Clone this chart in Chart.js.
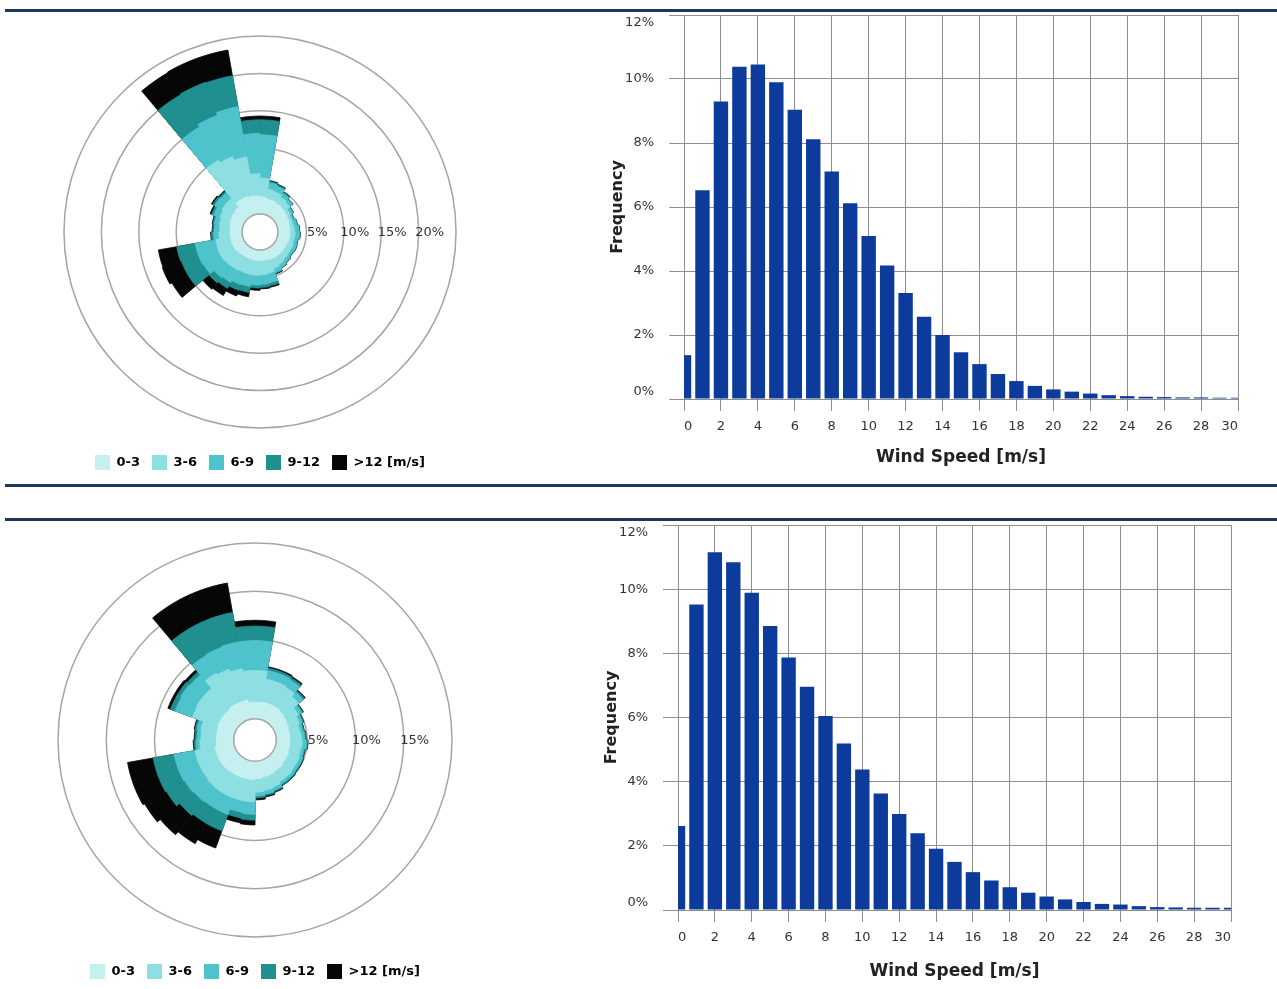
<!DOCTYPE html>
<html><head><meta charset="utf-8">
<script src="https://cdn.jsdelivr.net/npm/chart.js@4.4.1/dist/chart.umd.min.js"></script>
<style>
html,body{margin:0;padding:0;background:#fff;}
body{width:1277px;height:989px;position:relative;overflow:hidden;}
.rule{position:absolute;left:5px;right:0;height:3px;background:#1d3857;}
.box{position:absolute;}
</style></head><body>
<div class="rule" style="top:9px"></div>
<div class="rule" style="top:484px"></div>
<div class="rule" style="top:518px"></div>
<div class="box" style="left:0;top:0;width:521px;height:480px"><canvas id="roseTop"></canvas></div>
<div class="box" style="left:0;top:500px;width:510px;height:489px"><canvas id="roseBottom"></canvas></div>
<div class="box" style="left:600px;top:0;width:660px;height:478px"><canvas id="histTop"></canvas></div>
<div class="box" style="left:594px;top:510px;width:660px;height:479px"><canvas id="histBottom"></canvas></div>
<script>
// ---------- categories ----------
const DIRECTIONS = [0,10,20,30,40,50,60,70,80,90,100,110,120,130,140,150,160,170,180,190,200,210,220,230,240,250,260,270,280,290,300,310,320,330,340,350];
const BAND_LABELS = ['0-3','3-6','6-9','9-12','>12 [m/s]'];
const BAND_COLORS = ['#c6eff0','#8edfe2','#4fc3cb','#1f8f90','#060606'];
const WIND_SPEED = [0,1,2,3,4,5,6,7,8,9,10,11,12,13,14,15,16,17,18,19,20,21,22,23,24,25,26,27,28,29,30];

// ---------- top wind rose (% per 10° sector, per speed band) ----------
const TOP_0_3  = [3.5,3.3,3.3,3.2,3.1,3.0,2.9,2.8,2.8,2.8,2.8,2.7,2.7,2.7,2.7,2.7,2.6,2.6,2.6,2.6,2.6,2.6,2.7,2.8,2.8,2.8,2.8,2.8,2.9,3.0,3.1,3.2,3.8,3.8,3.7,3.6];
const TOP_3_6  = [2.5,1.3,1.2,1.0,0.9,0.5,0.4,0.5,0.6,0.7,0.6,0.8,0.8,0.9,1.1,1.3,1.8,1.9,2.0,2.0,2.0,2.1,2.1,2.1,2.1,2.0,1.5,1.4,1.4,1.5,1.6,1.5,6.1,5.7,5.3,3.0];
const TOP_6_9  = [5.8,0.9,0.8,0.6,0.5,0.4,0.3,0.5,0.6,0.6,0.5,0.5,0.4,0.5,0.5,0.6,1.3,1.3,1.3,1.6,1.7,1.9,2.0,2.6,2.7,2.8,0.7,0.7,0.7,0.9,1.1,1.0,5.1,5.9,6.8,5.4];
const TOP_9_12 = [2.0,0.2,0.2,0.15,0.05,0.05,0.05,0.05,0.05,0.05,0.05,0.05,0.05,0.05,0.05,0.1,0.4,0.4,0.4,0.8,0.8,0.9,0.9,2.5,2.4,2.5,0.3,0.2,0.2,0.3,0.3,0.25,5.0,4.7,4.2,1.8];
const TOP_GT12 = [0.5,0.1,0.1,0.05,0.05,0.05,0.05,0.05,0.05,0.05,0.05,0.05,0.05,0.05,0.05,0.1,0.2,0.2,0.3,0.6,0.8,1.1,1.1,2.4,2.7,2.5,0.1,0.1,0.1,0.2,0.2,0.15,3.4,3.4,3.5,0.5];
const TOP_CALM = 1.2;
const TOP_RINGS = [5,10,15,20,25];
const TOP_RING_LABELS = [5,10,15,20];

// ---------- bottom wind rose ----------
const BOT_0_3  = [3.5,3.6,3.6,3.6,3.5,3.4,3.3,3.2,3.2,3.2,3.2,3.3,3.3,3.4,3.4,3.5,3.5,3.6,3.7,3.7,3.7,3.7,3.8,3.8,3.8,3.8,3.6,3.6,3.6,3.7,3.7,3.7,3.8,3.8,3.8,3.5];
const BOT_3_6  = [3.3,2.4,2.4,2.3,2.0,1.4,1.2,1.1,1.2,1.3,1.2,1.2,1.2,1.2,1.2,1.3,1.4,1.4,2.3,2.3,2.3,2.3,2.2,2.1,2.1,2.1,1.7,1.6,1.7,2.8,2.9,2.9,3.8,3.6,3.3,3.3];
const BOT_6_9  = [3.1,0.9,0.9,0.9,0.6,0.4,0.35,0.35,0.35,0.45,0.35,0.35,0.35,0.3,0.3,0.35,0.4,0.4,1.3,1.2,1.8,1.8,1.9,2.1,2.2,2.2,0.4,0.4,0.4,1.9,1.9,1.8,2.1,2.4,2.8,3.1];
const BOT_9_12 = [1.5,0.25,0.25,0.25,0.2,0.15,0.1,0.1,0.1,0.1,0.1,0.1,0.1,0.15,0.15,0.15,0.15,0.2,0.6,0.6,1.8,1.8,1.9,2.2,2.2,2.2,0.2,0.2,0.2,0.5,0.4,0.4,3.3,3.2,3.1,1.5];
const BOT_GT12 = [0.6,0.15,0.15,0.15,0.1,0.05,0.05,0.05,0.05,0.05,0.05,0.05,0.05,0.05,0.05,0.1,0.15,0.2,0.5,0.5,1.9,2.4,2.6,2.6,2.7,2.7,0.1,0.1,0.1,0.3,0.3,0.3,3.1,3.1,3.1,0.6];
const BOT_CALM = 1.8;
const BOT_RINGS = [5,10,15,20];
const BOT_RING_LABELS = [5,10,15];

// ---------- histograms (% frequency per 1 m/s bin) ----------
const FREQ_TOP = [1.37,6.52,9.30,10.38,10.45,9.90,9.04,8.12,7.11,6.12,5.09,4.17,3.31,2.57,2.00,1.46,1.09,0.78,0.56,0.41,0.30,0.23,0.17,0.12,0.09,0.07,0.06,0.05,0.05,0.04,0.04];
const FREQ_BOTTOM = [2.62,9.52,11.15,10.84,9.89,8.85,7.87,6.96,6.05,5.19,4.38,3.63,2.99,2.39,1.91,1.50,1.18,0.92,0.71,0.54,0.42,0.33,0.25,0.19,0.17,0.12,0.09,0.08,0.07,0.07,0.07];
const Y_TICKS = [0,2,4,6,8,10,12];

Chart.defaults.font.family = "'DejaVu Sans', sans-serif";
const GRID = '#8e8e8e';
const RING = '#a5a5a5';

function roseDecor(calm, labels) {
  return {
    id: 'roseDecor',
    afterDatasetsDraw(chart) {
      const s = chart.scales.r, ctx = chart.ctx;
      ctx.save();
      ctx.beginPath();
      ctx.arc(s.xCenter, s.yCenter, s.getDistanceFromCenterForValue(calm), 0, Math.PI * 2);
      ctx.fillStyle = '#ffffff'; ctx.fill();
      ctx.lineWidth = 1.5; ctx.strokeStyle = RING; ctx.stroke();
      ctx.font = '13px "DejaVu Sans"'; ctx.fillStyle = '#333';
      ctx.textAlign = 'center'; ctx.textBaseline = 'middle';
      labels.forEach(v => ctx.fillText(v + '%', s.xCenter + s.getDistanceFromCenterForValue(v) + 11, s.yCenter + 1));
      ctx.restore();
    }
  };
}

function roseConfig(bands, calm, rMin, rMax, rings, ringLabels, padding) {
  const cum = [];
  let run = DIRECTIONS.map(() => 0);
  bands.forEach(b => { run = run.map((v, i) => v + b[i]); cum.push(run.slice()); });
  return {
    type: 'polarArea',
    data: {
      labels: DIRECTIONS.map(d => d + '°'),
      datasets: cum.map((d, k) => ({
        label: BAND_LABELS[k], data: d,
        backgroundColor: BAND_COLORS[k], borderColor: BAND_COLORS[k], borderWidth: 0.8
      }))
    },
    options: {
      responsive: true, maintainAspectRatio: false, animation: false,
      layout: { padding },
      plugins: {
        tooltip: { enabled: false },
        legend: {
          position: 'bottom', onClick: null,
          labels: {
            boxWidth: 15, boxHeight: 15, padding: 12, color: '#222',
            font: { size: 13, weight: 'bold' },
            generateLabels: (chart) => chart.data.datasets.map((ds, i) => ({
              text: ds.label, fillStyle: ds.backgroundColor, strokeStyle: ds.backgroundColor,
              lineWidth: 0, hidden: false, datasetIndex: i
            }))
          }
        }
      },
      scales: {
        r: {
          min: rMin, max: rMax, startAngle: 0,
          angleLines: { display: false },
          pointLabels: { display: false },
          grid: { circular: true, color: RING, lineWidth: 1.5 },
          ticks: { display: false },
          afterBuildTicks: (s) => { s.ticks = rings.map(v => ({ value: v })); }
        }
      }
    },
    plugins: [roseDecor(calm, ringLabels)]
  };
}

// first / last y labels kept inside the plot, as in the original
function yLabel(v) {
  const t = v + '%';
  if (v === Y_TICKS[Y_TICKS.length - 1]) return ['', t];
  if (v === Y_TICKS[0]) return [t, ''];
  return t;
}

function histConfig(freq, padding, titlePadBottom) {
  return {
    type: 'bar',
    data: {
      datasets: [{
        data: WIND_SPEED.map((x, i) => ({ x: x, y: freq[i] })),
        backgroundColor: '#0c3b9c', borderWidth: 0,
        barPercentage: 0.78, categoryPercentage: 1, clip: 0
      }]
    },
    options: {
      responsive: true, maintainAspectRatio: false, animation: false,
      layout: { padding },
      plugins: { legend: { display: false }, tooltip: { enabled: false } },
      scales: {
        x: {
          type: 'linear', min: 0, max: 30, offset: false,
          grid: { color: GRID, tickLength: 12, offset: false },
          border: { color: GRID },
          ticks: { stepSize: 2, autoSkip: false, maxRotation: 0, padding: 8, color: '#333', font: { size: 13 },
                   align: 'inner', callback: v => String(v) },
          title: { display: true, text: 'Wind Speed [m/s]', color: '#222', font: { size: 17, weight: 'bold' },
                   padding: { top: 4, bottom: titlePadBottom } },
          afterFit: s => { s.height = 79; }
        },
        y: {
          min: 0, max: 12,
          grid: { color: GRID, tickLength: 15 },
          border: { color: GRID },
          ticks: { stepSize: 2, padding: 15, color: '#333', font: { size: 13 }, callback: yLabel },
          afterBuildTicks: s => { s.ticks = Y_TICKS.map(v => ({ value: v })); },
          title: { display: true, text: 'Frequency', color: '#222', font: { size: 16, weight: 'bold' },
                   padding: { top: 8, bottom: 4 } },
          afterFit: s => { s.width = 84; s.paddingTop = 0; s.paddingBottom = 0; }
        }
      }
    }
  };
}

new Chart(document.getElementById('roseTop'),
  roseConfig([TOP_0_3, TOP_3_6, TOP_6_9, TOP_9_12, TOP_GT12], TOP_CALM, -1.2, 25, TOP_RINGS, TOP_RING_LABELS,
             { top: 22, left: 64, right: 65, bottom: 0 }));
new Chart(document.getElementById('roseBottom'),
  roseConfig([BOT_0_3, BOT_3_6, BOT_6_9, BOT_9_12, BOT_GT12], BOT_CALM, -0.4, 20, BOT_RINGS, BOT_RING_LABELS,
             { top: 28, left: 58, right: 58, bottom: 0 }));
new Chart(document.getElementById('histTop'), histConfig(FREQ_TOP, { top: 15, right: 22, left: 0, bottom: 0 }, 10));
new Chart(document.getElementById('histBottom'), histConfig(FREQ_BOTTOM, { top: 15, right: 23, left: 0, bottom: 0 }, 7));
</script>
</body></html>
